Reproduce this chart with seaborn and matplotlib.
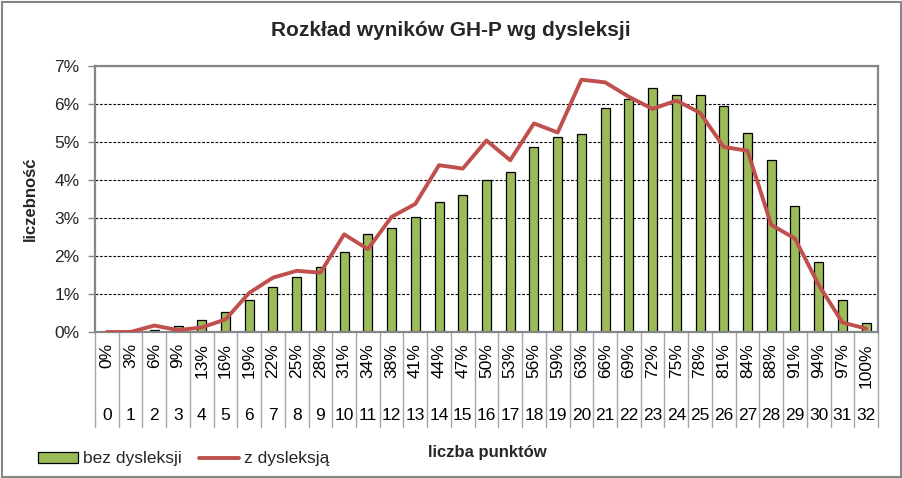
import matplotlib
matplotlib.use("Agg")
import matplotlib.pyplot as plt
import seaborn as sns
from matplotlib.lines import Line2D
from matplotlib.patches import Patch, Rectangle

# ---- data ----
punkty = [0, 1, 2, 3, 4, 5, 6, 7, 8, 9, 10, 11, 12, 13, 14, 15, 16,
          17, 18, 19, 20, 21, 22, 23, 24, 25, 26, 27, 28, 29, 30, 31, 32]
procent_labels = ["0%", "3%", "6%", "9%", "13%", "16%", "19%", "22%", "25%",
                  "28%", "31%", "34%", "38%", "41%", "44%", "47%", "50%",
                  "53%", "56%", "59%", "63%", "66%", "69%", "72%", "75%",
                  "78%", "81%", "84%", "88%", "91%", "94%", "97%", "100%"]
bez_dysleksji = [0.0, 0.0, 0.04, 0.15, 0.31, 0.52, 0.83, 1.18, 1.46, 1.70,
                 2.10, 2.57, 2.75, 3.02, 3.41, 3.60, 3.99, 4.20, 4.86, 5.12,
                 5.20, 5.89, 6.12, 6.41, 6.25, 6.23, 5.94, 5.25, 4.52, 3.31,
                 1.83, 0.83, 0.23]
z_dysleksja = [0.0, 0.0, 0.17, 0.05, 0.12, 0.33, 1.03, 1.43, 1.61, 1.56,
               2.57, 2.18, 3.03, 3.37, 4.39, 4.30, 5.04, 4.52, 5.49, 5.25,
               6.64, 6.57, 6.19, 5.87, 6.09, 5.77, 4.87, 4.77, 2.82, 2.46,
               1.24, 0.25, 0.09]
y_ticks = [0, 1, 2, 3, 4, 5, 6, 7]

GREEN = "#9BBB59"
RED = "#C0504D"
GRAY = "#868686"
FONT = ["Liberation Sans", "DejaVu Sans"]

sns.set_theme(style="white")
plt.rcParams["font.family"] = FONT

W, H = 902, 478
fig = plt.figure(figsize=(W / 100, H / 100), dpi=100)
ax_l, ax_r, ax_t, ax_b = 95, 878, 66, 332
ax = fig.add_axes([ax_l / W, 1 - ax_b / H, (ax_r - ax_l) / W, (ax_b - ax_t) / H])

sns.barplot(x=punkty, y=bez_dysleksji, color=GREEN, saturation=1, width=0.38,
            edgecolor="black", linewidth=0.9, ax=ax, label="bez dysleksji",
            zorder=2)
sns.lineplot(x=punkty, y=z_dysleksja, color=RED, linewidth=2.8, ax=ax,
             label="z dysleksją", zorder=3)
if ax.get_legend() is not None:
    ax.get_legend().remove()

ax.set_xlim(-0.5, len(punkty) - 0.5)
ax.set_ylim(0, 7)
ax.set_yticks(y_ticks)
ax.set_yticklabels([f"{v}%" for v in y_ticks], fontsize=12.5)
ax.tick_params(axis="y", left=True, length=5, width=1, color=GRAY, pad=6)
ax.tick_params(axis="x", bottom=False, labelbottom=False)
ax.set_xlabel("")
ax.set_ylabel("")
ax.set_axisbelow(True)
ax.yaxis.grid(True, linestyle=(0, (2.5, 1.5)), color="black", linewidth=0.8)
ax.xaxis.grid(False)
for s in ax.spines.values():
    s.set_color(GRAY)
    s.set_linewidth(1.6)
    s.set_visible(True)

# category table below axis
hpx = ax_b - ax_t
def afrac(py):
    return (ax_b - py) / hpx

tr = ax.get_xaxis_transform()
for i in range(len(punkty) + 1):
    ax.add_line(Line2D([i - 0.5, i - 0.5], [0, afrac(427)], transform=tr,
                       color="#A6A6A6", linewidth=1, clip_on=False))
for i, (p, lab) in enumerate(zip(punkty, procent_labels)):
    ax.text(i, afrac(343), lab, transform=tr, rotation=90, ha="center",
            va="top", fontsize=12.5, color="black")
    ax.text(i, afrac(416), str(p), transform=tr, ha="center", va="center",
            fontsize=12.5, color="black")

fig.text(451 / W, 1 - 30 / H, "Rozkład wyników GH-P wg dysleksji",
         ha="center", va="center", fontsize=15, fontweight="bold")
fig.text(30 / W, 1 - 199 / H, "liczebność", rotation=90, ha="center",
         va="center", fontsize=12, fontweight="bold")
fig.text(487 / W, 1 - 452 / H, "liczba punktów", ha="center", va="center",
         fontsize=12, fontweight="bold")

handles = [Patch(facecolor=GREEN, edgecolor="black", linewidth=0.9),
           Line2D([0], [0], color=RED, linewidth=2.8)]
fig.legend(handles, ["bez dysleksji", "z dysleksją"], ncol=2,
           loc="center left", bbox_to_anchor=(38 / W, 1 - 459 / H),
           frameon=False, fontsize=12.5, handlelength=2.3, handleheight=0.55,
           handletextpad=0.3, columnspacing=1.0, borderaxespad=0,
           borderpad=0)

fig.add_artist(Rectangle((1.5 / W, 1.5 / H), (W - 3) / W, (H - 3) / H,
                         transform=fig.transFigure, fill=False,
                         edgecolor=GRAY, linewidth=1.5))

fig.savefig("out.png", dpi=100)
